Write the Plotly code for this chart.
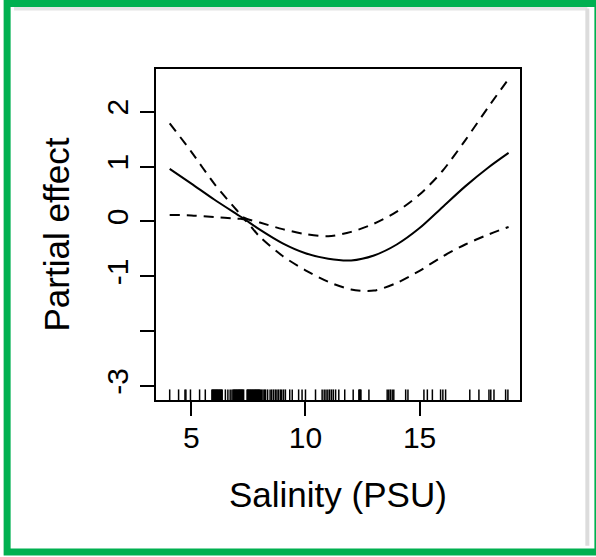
import plotly.graph_objects as go

# ---- data ----
salinity = [4.05, 5.0, 6.0, 7.0, 7.3, 8.0, 9.0, 10.0, 11.0, 12.0, 13.0, 14.0, 15.0, 16.0, 17.0, 18.0, 18.9]
fit      = [0.96, 0.69, 0.40, 0.13, 0.05, -0.15, -0.40, -0.58, -0.68, -0.71, -0.62, -0.42, -0.12, 0.26, 0.64, 0.98, 1.25]
upper    = [1.79, 1.27, 0.69, 0.20, 0.07, -0.02, -0.14, -0.23, -0.27, -0.19, -0.04, 0.18, 0.49, 0.92, 1.48, 2.08, 2.60]
lower    = [0.12, 0.11, 0.08, 0.05, 0.04, -0.28, -0.63, -0.89, -1.10, -1.24, -1.26, -1.12, -0.90, -0.64, -0.42, -0.24, -0.10]

rug_salinity = [4.05, 4.44, 4.72, 4.76, 4.96, 5.36, 5.61,
                5.90, 5.93, 5.96, 5.99, 6.02, 6.05, 6.08, 6.11, 6.14, 6.17, 6.20, 6.23, 6.26, 6.29, 6.32, 6.35,
                6.49, 6.60, 6.70, 6.78,
                6.83, 6.86, 6.89, 6.92, 6.95, 6.98, 7.01, 7.04, 7.07, 7.10, 7.13, 7.16, 7.19, 7.22, 7.25, 7.29,
                7.44, 7.47, 7.50, 7.53, 7.56, 7.59, 7.62, 7.65, 7.68, 7.71, 7.74, 7.77, 7.80, 7.83, 7.86,
                7.89, 7.92, 7.95, 7.98, 8.02, 8.08, 8.14, 8.20, 8.25,
                8.34, 8.45, 8.52, 8.60, 8.68, 8.75, 8.82, 8.90, 8.96, 9.04, 9.12,
                9.31, 9.42, 9.70, 9.85, 10.00, 10.44, 10.73, 10.82, 10.90, 10.98, 11.06, 11.14,
                11.22, 11.32, 11.46, 11.72, 12.09, 12.34, 12.37, 12.40, 12.43, 12.78, 13.58, 13.65, 13.72,
                13.80, 13.87, 14.39, 14.49, 15.19, 15.34, 15.56, 15.92, 16.02, 16.14, 17.2, 17.6,
                18.04, 18.12, 18.26, 18.77, 18.87]

x_ticks = [5, 10, 15]
y_ticks = [-3, -2, -1, 0, 1, 2]
y_ticktext = ["-3", "", "-1", "0", "1", "2"]

x_title = "Salinity (PSU)"
y_title = "Partial effect"

FONT = "Liberation Sans, Arial, sans-serif"

fig = go.Figure()
fig.add_trace(go.Scatter(x=salinity, y=upper, mode="lines",
                         line=dict(color="black", width=2, dash="10px,7px", shape="spline", smoothing=0.8)))
fig.add_trace(go.Scatter(x=salinity, y=lower, mode="lines",
                         line=dict(color="black", width=2, dash="10px,7px", shape="spline", smoothing=0.8)))
fig.add_trace(go.Scatter(x=salinity, y=fit, mode="lines",
                         line=dict(color="black", width=2, shape="spline", smoothing=0.8)))

shapes = []
for v in rug_salinity:
    shapes.append(dict(type="line", xref="x", yref="y domain", x0=v, x1=v, y0=0, y1=0.032,
                       line=dict(color="black", width=1.5)))
# soft inner shadow and green frame around the figure
shapes.append(dict(type="line", xref="paper", yref="paper", x0=-0.39, x1=1.185, y0=1.183, y1=1.183,
                   line=dict(color="#e4e4e4", width=4), layer="above"))
shapes.append(dict(type="line", xref="paper", yref="paper", x0=1.185, x1=1.185, y0=-0.44, y1=1.183,
                   line=dict(color="#dcdcdc", width=4), layer="above"))
shapes.append(dict(type="rect", xref="paper", yref="paper", x0=-0.409, x1=1.214, y0=-0.459, y1=1.198,
                   line=dict(color="#00B050", width=7), layer="above"))
fig.update_layout(shapes=shapes)

fig.update_layout(
    width=596, height=557,
    margin=dict(l=156, r=76, t=69, b=157),
    paper_bgcolor="white", plot_bgcolor="white",
    showlegend=False,
    font=dict(family=FONT, color="black", size=30),
    xaxis=dict(range=[3.45, 19.4], tickvals=x_ticks, ticks="outside", ticklen=14, tickwidth=1.5,
               tickcolor="black", showline=True, linecolor="black", linewidth=1.5, mirror=True,
               showgrid=False, zeroline=False, tickfont=dict(size=30), ticklabelstandoff=-4),
    yaxis=dict(range=[-3.255, 2.78], tickvals=y_ticks, ticktext=y_ticktext, ticks="outside",
               ticklen=14, tickwidth=1.5, tickcolor="black", showline=True, linecolor="black",
               linewidth=1.5, mirror=True, showgrid=False, zeroline=False, tickangle=-90,
               tickfont=dict(size=30)),
    annotations=[
        dict(text=x_title, xref="paper", yref="paper", x=0.5, y=-0.287, showarrow=False,
             xanchor="center", yanchor="middle", font=dict(size=35)),
        dict(text=y_title, xref="paper", yref="paper", x=-0.272, y=0.5, showarrow=False,
             textangle=-90, xanchor="center", yanchor="middle", font=dict(size=35)),
    ],
)

fig.write_html("out.html", config={"displayModeBar": False},
               post_script="document.body.style.margin='0';")
